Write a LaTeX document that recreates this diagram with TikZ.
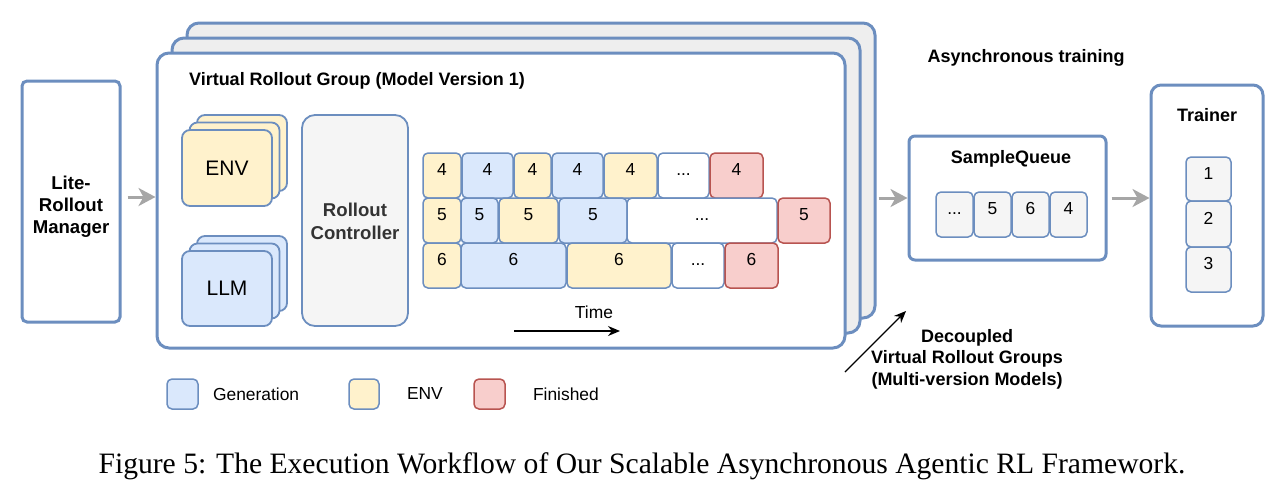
\documentclass[tikz,border=0pt]{standalone}
\usepackage{fontspec}
\setmainfont{Liberation Serif}
\setsansfont{Liberation Sans}
\usetikzlibrary{arrows.meta,fit,positioning}

\definecolor{bdblue}{HTML}{6C8EBF}
\definecolor{genblue}{HTML}{DAE8FC}
\definecolor{envyel}{HTML}{FFF2CC}
\definecolor{finred}{HTML}{B85450}
\definecolor{finpink}{HTML}{F8CECC}
\definecolor{ctlgray}{HTML}{F5F5F5}
\definecolor{grpgray}{HTML}{EEEEEE}
\definecolor{flowgray}{HTML}{A6A6A6}
\definecolor{txtgray}{HTML}{333333}

\newcommand{\skipdots}{...}

\tikzset{
  bigbox/.style={draw=bdblue, line width=1.5pt, inner sep=0pt, fill=white},
  grp/.style={bigbox, rounded corners=6pt},
  bold/.style={font=\sffamily\bfseries\fontsize{9}{11}\selectfont},
  stackbox/.style={draw=bdblue, line width=0.9pt, rounded corners=4pt, inner sep=0pt,
    font=\sffamily\fontsize{10.5}{12}\selectfont},
  cell/.style={draw=bdblue, line width=0.75pt, rounded corners=2.5pt, inner sep=0pt,
    text height=6.3pt, text depth=0pt, font=\sffamily\fontsize{8.7}{10}\selectfont},
  gen/.style={cell, fill=genblue},
  envc/.style={cell, fill=envyel},
  fin/.style={cell, draw=finred, fill=finpink},
  idle/.style={cell, fill=white},
  slot/.style={cell, fill=ctlgray},
  legtext/.style={anchor=west, font=\sffamily\fontsize{8.7}{10}\selectfont},
  flow/.style={draw=flowgray, line width=1.5pt, -{Stealth[length=8.5pt,width=9pt,inset=2.5pt]}},
}

\begin{document}
\begin{tikzpicture}[x=0.5pt, y=-0.5pt]
\useasboundingbox (0,0) rectangle (1284,500);

% rollout manager
\node[bigbox, rounded corners=2.5pt, fit={(22,81) (120,322)}] (mgr) {};
\node[align=center, font=\sffamily\bfseries\fontsize{9.3}{11}\selectfont] (mgrlbl)
  at ([yshift=-2.5pt]mgr.center) {Lite-\\Rollout\\Manager};

% stacked virtual rollout groups
\node[grp, fill=grpgray, fit={(187,23) (875,318)}] (grpc) {};
\node[grp, fill=grpgray, fit={(172,38) (860,333)}] (grpb) {};
\node[grp, fit={(157,53) (845,348)}] (grpa) {};
\node[bold, anchor=west] (grptitle) at (182,81) {Virtual Rollout Group (Model Version 1)};

% ENV and LLM workers
\foreach \d [count=\i] in {15,7.5,0} {
  \node[stackbox, fill=envyel, fit={(182+\d,130-\d) (272+\d,206-\d)}] (env\i) {};
  \node[stackbox, fill=genblue, fit={(182+\d,251-\d) (272+\d,326-\d)}] (llm\i) {};
}
\node[font=\sffamily\fontsize{10.5}{12}\selectfont] (envlbl) at (env3) {ENV};
\node[font=\sffamily\fontsize{10.5}{12}\selectfont] (llmlbl) at (llm3) {LLM};

\node[bigbox, line width=0.9pt, fill=ctlgray, rounded corners=6.5pt, fit={(302,115) (408,326)}] (ctrl) {};
\node[align=center, text=txtgray, font=\sffamily\bfseries\fontsize{9.3}{11.5}\selectfont] (ctrllbl)
  at ([yshift=-0.5pt]ctrl.center) {Rollout\\Controller};

% trajectories over time
\foreach \a/\b/\s/\t [count=\i] in {423/461/envc/4, 462/513/gen/4, 514/551/envc/4, 552/603/gen/4,
    604/657/envc/4, 658/709/idle/\skipdots, 710/763/fin/4}
  \node[\s, fit={(\a,153) (\b,198)}] (ra\i) {\t};
\foreach \a/\b/\s/\t [count=\i] in {423/461/envc/5, 461/498/gen/5, 499/558/envc/5, 559/627/gen/5,
    627/777/idle/\skipdots, 778/830/fin/5}
  \node[\s, fit={(\a,198) (\b,243)}] (rb\i) {\t};
\foreach \a/\b/\s/\t [count=\i] in {423/461/envc/6, 461/566/gen/6, 567/671/envc/6,
    672/724/idle/\skipdots, 725/778/fin/6}
  \node[\s, fit={(\a,243) (\b,288)}] (rc\i) {\t};

\node[legtext, anchor=center] (timelbl) at (594,312) {Time};
\coordinate (t0) at (514,331);
\coordinate (t1) at (620,331);
\draw[line width=0.7pt, -{Stealth[length=6pt,width=5pt]}] (t0) -- (t1);

% legend
\node[gen, fit={(167,379) (198,409)}] (leggen) {};
\node[legtext] (leggent) at (206,394) {Generation};
\node[envc, fit={(349,379) (379,409)}] (legenv) {};
\node[legtext] (legenvt) at (400,394) {ENV};
\node[fin, fit={(474,379) (505,409)}] (legfin) {};
\node[legtext] (legfint) at (526,394) {Finished};

% sample queue
\node[bold] (async) at (1026,58) {Asynchronous training};
\node[bigbox, rounded corners=3pt, fit={(909,136) (1106,260)}] (queue) {};
\node[bold] (queuelbl) at (1011,159) {SampleQueue};
\foreach \a/\b/\t [count=\i] in {936/973/\skipdots, 974/1011/5, 1012/1049/6, 1050/1087/4}
  \node[slot, fit={(\a,192) (\b,237)}] (q\i) {\t};

% trainer
\node[bigbox, rounded corners=5pt, fit={(1151,85) (1263,326)}] (trainer) {};
\node[bold] (trainerlbl) at (1207,115) {Trainer};
\foreach \a/\b/\t [count=\i] in {157/201/1, 201/247/2, 247/292/3}
  \node[slot, fit={(1186,\a) (1231,\b)}] (tr\i) {\t};

% flows
\draw[flow, shorten <=3pt] (mgr.east |- 0,197) -- (grpa.west |- 0,197);
\draw[flow, shorten <=1pt] (grpc.east |- queue.west) -- (queue.west);
\draw[flow, shorten <=2pt] (queue.east) -- (queue.east -| trainer.west);

% decoupled groups
\coordinate (d0) at (845,372);
\coordinate (d1) at (906,311);
\draw[line width=0.6pt, -{Stealth[length=6pt,width=5pt]}] (d0) -- (d1);
\node[bold, align=center, font=\sffamily\bfseries\fontsize{9}{10.7}\selectfont] (declbl) at (967,359)
  {Decoupled\\Virtual Rollout Groups\\(Multi-version Models)};

% caption
\node[font=\rmfamily\fontsize{14.8}{17}\selectfont] (caption) at (642,466)
  {Figure 5: The Execution Workflow of Our Scalable Asynchronous Agentic RL Framework.};
\end{tikzpicture}
\end{document}
